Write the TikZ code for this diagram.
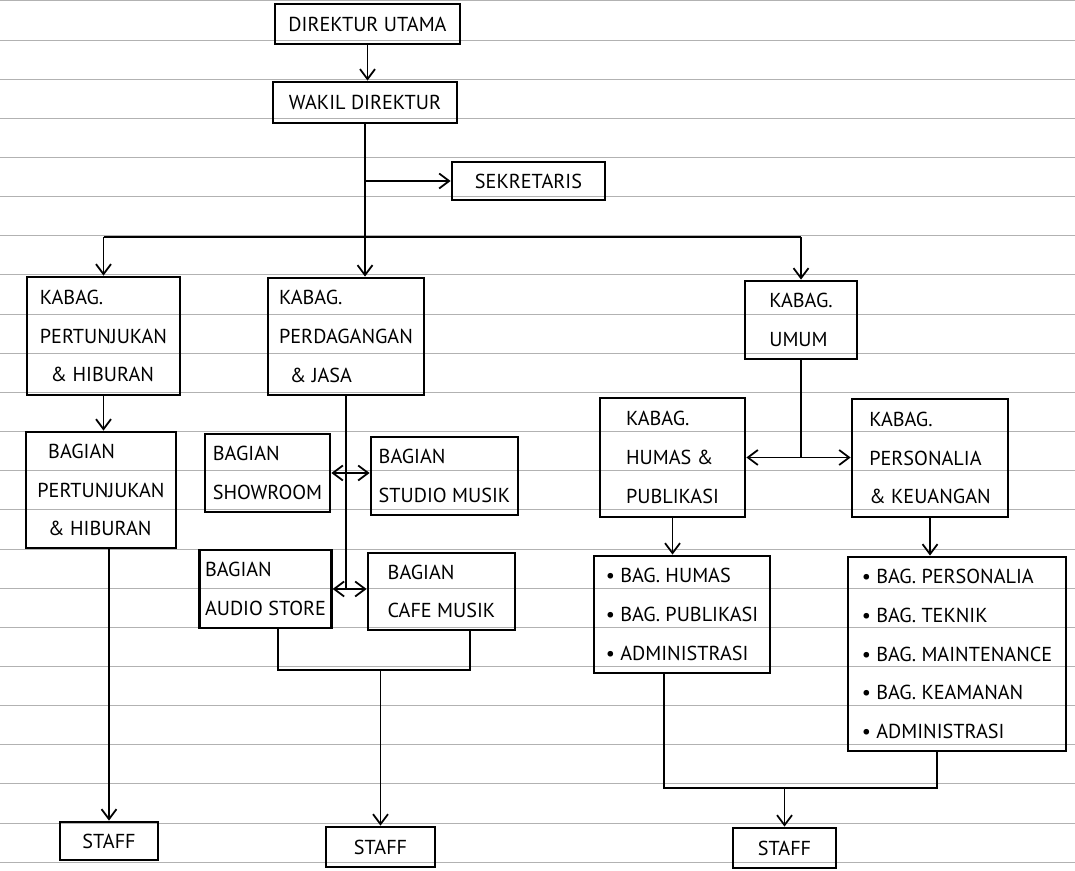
\documentclass[tikz,border=0pt]{standalone}
\usepackage{fontspec}
\setmainfont{PT Sans}
\usetikzlibrary{arrows.meta}
\tikzset{
    box/.style={draw, line width=1.6pt, align=left, inner sep=3pt,
                font=\fontsize{11.5}{22}\selectfont},
    wire/.style={line width=1pt},
    feed/.style={wire, -{Straight Barb[length=2mm,width=3mm]}},
    twoway/.style={wire, {Straight Barb[length=2mm,width=3mm]}-{Straight Barb[length=2mm,width=3mm]}},
    paperline/.style={gray!60, line width=0.5pt}
}

\begin{document}
\begin{tikzpicture}
  \useasboundingbox (0,0) rectangle (21.5,-17.42);
  % ruled paper
  \foreach \k in {0,...,22}
    \draw[paperline] (0,{-0.017-0.783*\k}) -- (21.5,{-0.017-0.783*\k});

  % top
  \node [box, minimum width=3.7cm,  minimum height=0.8cm]  (du)  at (7.35,-0.48)  {DIREKTUR UTAMA};
  \node [box, minimum width=3.68cm, minimum height=0.82cm] (wd)  at (7.30,-2.05)  {WAKIL DIREKTUR};
  \node [box, minimum width=3.06cm, minimum height=0.76cm] (sek) at (10.57,-3.62) {SEKRETARIS};

  % kepala bagian
  \node [box, minimum width=3.06cm, minimum height=2.36cm] (kp) at (2.07,-6.72)  {KABAG.\\PERTUNJUKAN\\\ \ \& HIBURAN};
  \node [box, minimum width=3.12cm, minimum height=2.34cm] (kd) at (6.92,-6.73)  {KABAG.\\PERDAGANGAN\\\ \ \& JASA};
  \node [box, minimum width=2.24cm, minimum height=1.56cm] (ku) at (16.02,-6.40) {KABAG.\\UMUM};
  \node [box, minimum width=2.9cm,  minimum height=2.38cm] (kh) at (13.45,-9.15) {KABAG.\\HUMAS \&\\PUBLIKASI};
  \node [box, minimum width=3.12cm, minimum height=2.36cm] (kk) at (18.6,-9.16)  {KABAG.\\PERSONALIA\\\& KEUANGAN};

  % bagian
  \node [box, minimum width=3.0cm,  minimum height=2.32cm] (bp)  at (2.02,-9.80)  {\ \ BAGIAN\\PERTUNJUKAN\\\ \ \& HIBURAN};
  \node [box, minimum width=2.5cm,  minimum height=1.56cm] (bs)  at (5.35,-9.46)  {BAGIAN\\SHOWROOM};
  \node [box, minimum width=2.94cm, minimum height=1.56cm] (bst) at (8.89,-9.52)  {BAGIAN\\STUDIO MUSIK};
  \node [box, minimum width=2.5cm,  minimum height=1.56cm] (ba)  at (5.31,-11.78) {BAGIAN\\AUDIO STORE};
  \node [box, minimum width=2.94cm, minimum height=1.54cm] (bc)  at (8.83,-11.83) {BAGIAN\\CAFE MUSIK};
  \node [box, minimum width=3.52cm, minimum height=2.34cm] (lh)  at (13.64,-12.29)
    {\textbullet\ BAG. HUMAS\\\textbullet\ BAG. PUBLIKASI\\\textbullet\ ADMINISTRASI};
  \node [box, minimum width=4.36cm, minimum height=3.88cm] (lp)  at (19.14,-13.08)
    {\textbullet\ BAG. PERSONALIA\\\textbullet\ BAG. TEKNIK\\\textbullet\ BAG. MAINTENANCE\\\textbullet\ BAG. KEAMANAN\\\textbullet\ ADMINISTRASI};

  % staff
  \node [box, minimum width=1.96cm, minimum height=0.76cm] (s1) at (2.18,-16.82)  {STAFF};
  \node [box, minimum width=2.18cm, minimum height=0.8cm]  (s2) at (7.61,-16.94)  {STAFF};
  \node [box, minimum width=2.06cm, minimum height=0.8cm]  (s3) at (15.69,-16.96) {STAFF};

  % lines
  \coordinate (bus) at (0,-4.74);
  \coordinate (j2)  at (0,-13.4);
  \coordinate (j3)  at (0,-15.76);
  \coordinate (ba-out) at ([xshift=0.25cm]ba.south);
  \coordinate (bc-out) at ([xshift=0.57cm]bc.south);
  \coordinate (lh-out) at ([xshift=-0.36cm]lh.south);
  \coordinate (lp-out) at ([xshift=-0.4cm]lp.south);

  \draw [feed] (du.south) -- (du.south |- wd.north);
  \draw [feed] (wd.south) -- (wd.south |- kd.north);
  \draw [feed] (wd.south |- sek.west) -- (sek.west);
  \draw [wire] (kp.north |- bus) -- (ku.north |- bus);
  \draw [feed] (kp.north |- bus) -- (kp.north);
  \draw [feed] (ku.north |- bus) -- (ku.north);

  \draw [feed] (kp.south) -- (kp.south |- bp.north);
  \draw [feed] (s1.north |- bp.south) -- (s1.north);

  \draw [wire] (kd.south) -- (kd.south |- ba.east);
  \draw [twoway] (bs.east) -- (bst.west |- bs.east);
  \draw [twoway] (ba.east) -- (bc.west |- ba.east);
  \draw [wire] (ba-out) |- (bc-out |- j2) -- (bc-out);
  \draw [feed] (s2.north |- j2) -- (s2.north);

  \draw [wire] (ku.south) -- (ku.south |- kh.east);
  \draw [twoway] (kh.east) -- (kk.west |- kh.east);
  \draw [feed] (kh.south) -- (kh.south |- lh.north);
  \draw [feed] (kk.south) -- (kk.south |- lp.north);
  \draw [wire] (lh-out) |- (lp-out |- j3) -- (lp-out);
  \draw [feed] (s3.north |- j3) -- (s3.north);
\end{tikzpicture}
\end{document}
